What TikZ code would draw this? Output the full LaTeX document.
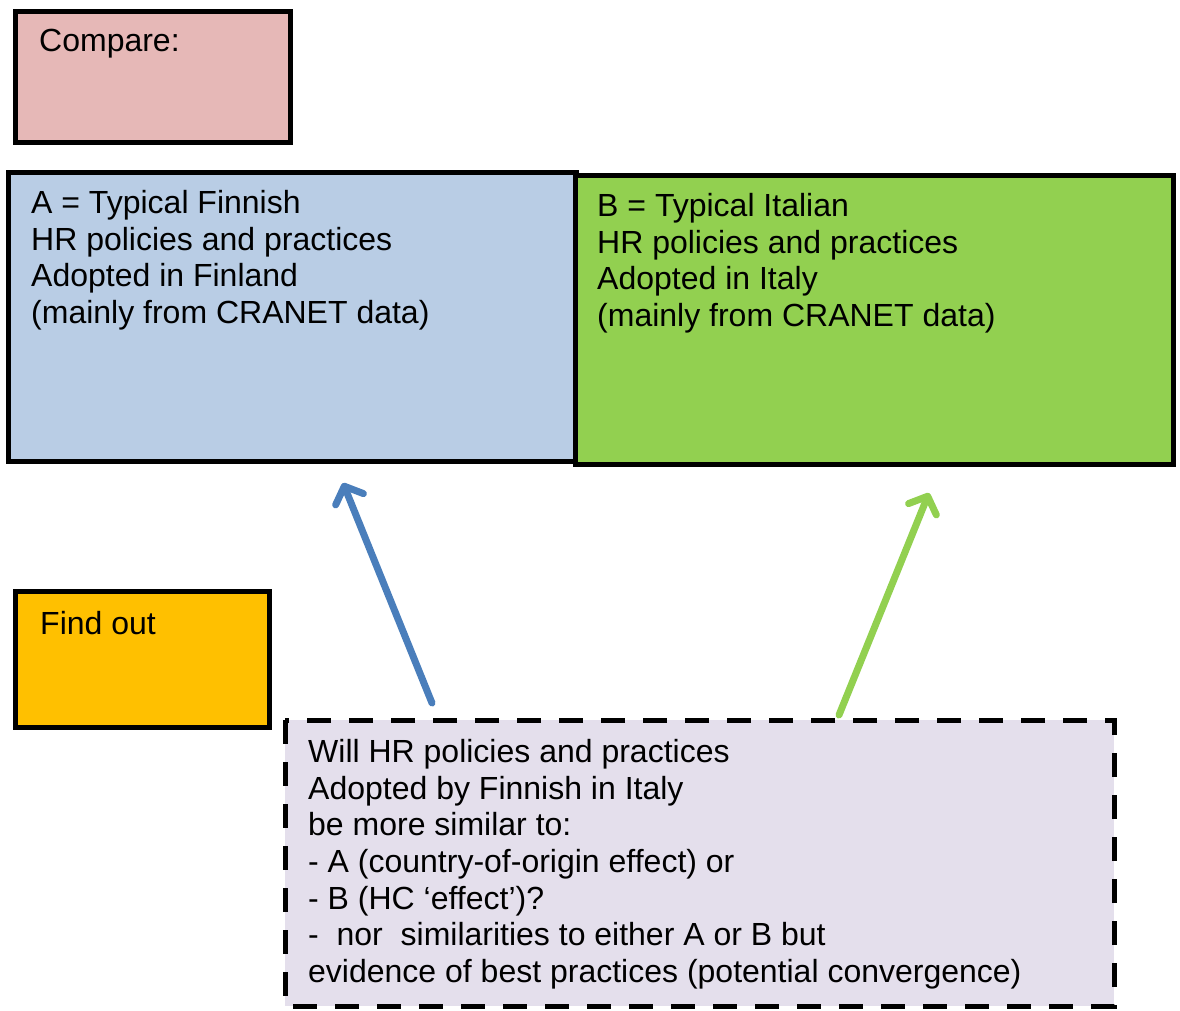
\documentclass[tikz,border=0pt]{standalone}
\usepackage{fontspec}
\setmainfont{Liberation Sans}
\usetikzlibrary{arrows.meta}
\definecolor{pinkfill}{HTML}{E6B8B7}
\definecolor{bluefill}{HTML}{B9CDE5}
\definecolor{greenfill}{HTML}{92D050}
\definecolor{orangefill}{HTML}{FFC000}
\definecolor{lilacfill}{HTML}{E4DFEC}
\definecolor{bluearrow}{HTML}{4A7EBB}
\definecolor{greenarrow}{HTML}{92D050}
\begin{document}
\begin{tikzpicture}[x=1pt,y=-1pt,
  box/.style={draw=black,line width=5pt},
  txt/.style={anchor=north west,inner sep=0pt,align=left,font=\fontsize{32}{36.7}\selectfont},
  arr/.style={line width=7pt,line cap=round,-{Straight Barb[length=14pt,width=30pt,round]}}]
\useasboundingbox (0,0) rectangle (1180,1010);
\filldraw[box,fill=pinkfill] (15,11) rectangle (290,142);
\node[txt] (cmp) at (39,29) {Compare:};
\filldraw[box,fill=bluefill] (8,172) rectangle (576,461);
\filldraw[box,fill=greenfill] (575,175) rectangle (1173,464);
\node[txt] (ta) at (31,190) {A = Typical Finnish\\HR policies and practices\\Adopted in Finland\\(mainly from CRANET data)};
\node[txt] (tb) at (597,193) {B = Typical Italian\\HR policies and practices\\Adopted in Italy\\(mainly from CRANET data)};
\filldraw[box,fill=orangefill] (15,591) rectangle (269,727);
\node[txt] (fo) at (40,611) {Find out};
\filldraw[box,fill=lilacfill,dash pattern=on 24pt off 18pt] (285,720) rectangle (1114,1006);
\node[txt] (q) at (308,739) {Will HR policies and practices\\Adopted by Finnish in Italy\\be more similar to:\\- A (country-of-origin effect) or\\- B (HC `effect')?\\-\ \ nor\ \ similarities to either A or B but\\evidence of best practices (potential convergence)};
\coordinate (s1) at (432,703);
\coordinate (e1) at (343,483);
\coordinate (s2) at (839,715);
\coordinate (e2) at (929,493);
\draw[arr,draw=bluearrow] (s1) -- (e1);
\draw[arr,draw=greenarrow] (s2) -- (e2);
\end{tikzpicture}
\end{document}
